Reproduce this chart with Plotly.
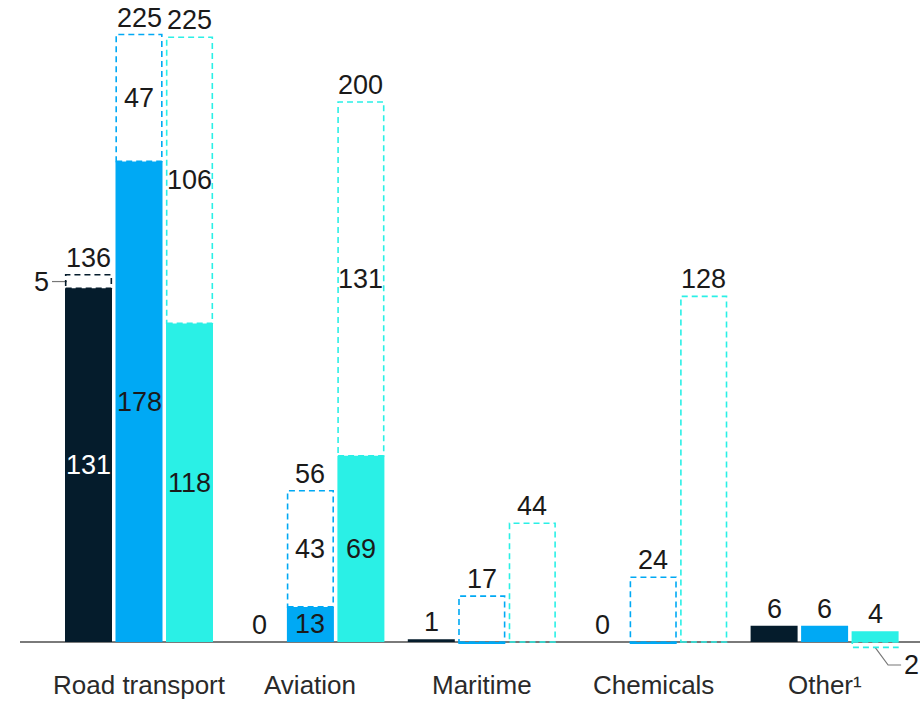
import plotly.graph_objects as go

# ---- data -------------------------------------------------------------
categories = ["Road transport", "Aviation", "Maritime", "Chemicals", "Other¹"]

navy_solid = [131, 0, 1, 0, 6]
navy_dashed = [5, 0, 0, 0, 0]
navy_total = [136, 0, 1, 0, 6]

blue_solid = [178, 13, -0.6, -0.6, 6]
blue_dashed = [47, 43, 17, 24, 0]
blue_total = [225, 56, 17, 24, 6]

cyan_solid = [118, 69, 0, 0, 4]
cyan_dashed = [106, 131, 44, 128, -2]
cyan_total = [225, 200, 44, 128, 4]

# ---- styling ------------------------------------------------------------
NAVY = "#051c2c"
BLUE = "#00a9f4"
CYAN = "#2af0e6"
TEXT = "#1a1a1a"
FONT = "Liberation Sans, Arial, sans-serif"
FS = 27

W, H = 920, 701
LEFT = 20
X0_PX = 139          # pixel centre of the first category
PX_X = 171.4         # pixels per category
BASE_PX = 642        # pixel row of the zero line
PX_Y = 2.7           # pixels per unit

STEP = 50.5 / PX_X   # distance between the three bars of a group
WIDTH = 47 / PX_X    # bar width

x_range = [-(X0_PX - LEFT) / PX_X, (W - X0_PX) / PX_X]
y_range = [-(H - BASE_PX) / PX_Y, BASE_PX / PX_Y]

series = [
    ("navy", navy_solid, navy_dashed, navy_total, NAVY, "white"),
    ("blue", blue_solid, blue_dashed, blue_total, BLUE, TEXT),
    ("cyan", cyan_solid, cyan_dashed, cyan_total, CYAN, TEXT),
]

fig = go.Figure()
shapes = []
annotations = []

for k, (name, solid, dashed, total, color, inner) in enumerate(series):
    xs = [i + (k - 1) * STEP for i in range(len(categories))]
    fig.add_trace(go.Bar(
        x=xs, y=solid, width=WIDTH, name=name,
        marker=dict(color=color, line=dict(width=0)),
        showlegend=False, hoverinfo="skip",
    ))
    for x, s, d, t in zip(xs, solid, dashed, total):
        # dashed outline for the additional potential
        if d != 0:
            y0 = max(s, 0) if d > 0 else 0
            y1 = y0 + d
            shapes.append(dict(
                type="rect", xref="x", yref="y",
                x0=x - WIDTH / 2 + 0.004, x1=x + WIDTH / 2 - 0.004,
                y0=y0, y1=y1,
                line=dict(color=color, width=1.6, dash="6px,4px"),
                fillcolor="rgba(0,0,0,0)", layer="above",
            ))
        # value inside the solid part
        if s >= 10:
            annotations.append(dict(
                x=x, y=s / 2, text=str(s), showarrow=False,
                font=dict(family=FONT, size=FS, color=inner),
            ))
        # value inside the dashed part
        if s >= 10 and d >= 10:
            annotations.append(dict(
                x=x, y=s + d / 2, text=str(d), showarrow=False,
                font=dict(family=FONT, size=FS, color=TEXT),
            ))
        # total above the bar
        top = max(0, s, max(s, 0) + d if d > 0 else s)
        annotations.append(dict(
            x=x, y=top, text=str(t), showarrow=False,
            yanchor="bottom", yshift=0,
            font=dict(family=FONT, size=FS, color=TEXT),
        ))

# call-out for the small dashed top of the first navy bar
nx = 0 - STEP
n_left = nx - WIDTH / 2
n_mid = navy_solid[0] + navy_dashed[0] / 2
fig.add_trace(go.Scatter(
    x=[n_left - 13 / PX_X, n_left + 2 / PX_X], y=[n_mid, n_mid],
    mode="lines", line=dict(color="#777777", width=1.2),
    showlegend=False, hoverinfo="skip",
))
annotations.append(dict(
    x=n_left - 14 / PX_X, y=n_mid, text=str(navy_dashed[0]), showarrow=False,
    xanchor="right", font=dict(family=FONT, size=FS, color=TEXT),
))

# call-out for the negative dashed part of the last cyan bar
cx = 4 + STEP
c_low = cyan_dashed[4]
c_row = -(665 - BASE_PX) / PX_Y
fig.add_trace(go.Scatter(
    x=[cx, cx + 13 / PX_X, cx + 26 / PX_X], y=[c_low, c_row, c_row],
    mode="lines", line=dict(color="#777777", width=1.2),
    showlegend=False, hoverinfo="skip",
))
annotations.append(dict(
    x=cx + 27 / PX_X, y=c_row, text=str(abs(c_low)), showarrow=False,
    xanchor="left", font=dict(family=FONT, size=FS, color=TEXT),
))

# category labels
label_row = -(685 - BASE_PX) / PX_Y
for i, c in enumerate(categories):
    annotations.append(dict(
        x=i, y=label_row, text=c, showarrow=False,
        font=dict(family=FONT, size=26, color="#2a2a2a"),
    ))

fig.update_layout(
    width=W, height=H,
    margin=dict(l=LEFT, r=0, t=0, b=0),
    paper_bgcolor="white", plot_bgcolor="white",
    barmode="overlay",
    shapes=shapes, annotations=annotations,
    xaxis=dict(range=x_range, showgrid=False, zeroline=False,
               showticklabels=False, fixedrange=True),
    yaxis=dict(range=y_range, showgrid=False, zeroline=True,
               zerolinecolor="#7a7a7a", zerolinewidth=1.5,
               showticklabels=False, fixedrange=True),
)

fig.write_html("out.html")
